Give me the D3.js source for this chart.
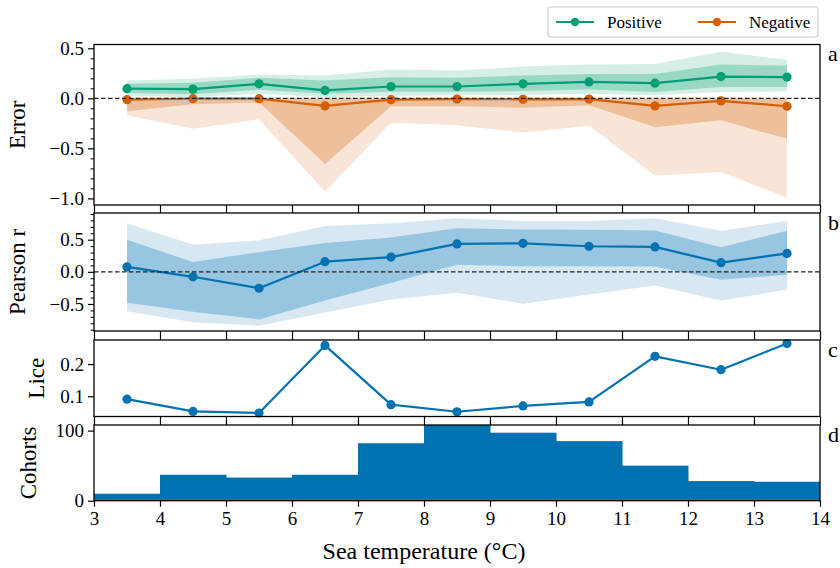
<!DOCTYPE html>
<html>
<head>
<meta charset="utf-8">
<script src="https://cdn.jsdelivr.net/npm/d3@7"></script>
<style>
  html, body { margin: 0; padding: 0; background: #fff; }
  svg { display: block; }
  text { font-family: "Liberation Serif", "Times New Roman", serif; fill: #000; }
</style>
</head>
<body>
<svg id="chart" width="840" height="568"></svg>
<script>
// Temperature bins (°C)
const binCenters = [3.5, 4.5, 5.5, 6.5, 7.5, 8.5, 9.5, 10.5, 11.5, 12.5, 13.5];
const binEdges = [3, 4, 5, 6, 7, 8, 9, 10, 11, 12, 13, 14];
const xTicks = [3, 4, 5, 6, 7, 8, 9, 10, 11, 12, 13, 14];

// Panel a: error of positive / negative predictions (mean, inner and outer bands)
const posMean    = [0.096, 0.092, 0.145, 0.079, 0.118, 0.118, 0.145, 0.164, 0.151, 0.217, 0.212];
const posInnerLo = [0.053, 0.040, 0.086, 0.046, 0.066, 0.066, 0.073, 0.089, 0.063, 0.112, 0.112];
const posInnerHi = [0.145, 0.155, 0.205, 0.178, 0.211, 0.205, 0.228, 0.244, 0.244, 0.337, 0.327];
const posOuterLo = [0.020, 0.013, 0.046, 0.013, 0.023, 0.030, 0.030, 0.046, 0.030, 0.063, 0.069];
const posOuterHi = [0.178, 0.195, 0.238, 0.228, 0.287, 0.277, 0.317, 0.337, 0.343, 0.465, 0.386];

const negMean    = [-0.013, -0.003, -0.003, -0.076, -0.013, -0.007, -0.010, -0.007, -0.076, -0.026, -0.079];
const negInnerLo = [-0.128, -0.060, -0.040, -0.655, -0.080, -0.080, -0.095, -0.070, -0.290, -0.220, -0.405];
const negInnerHi = [0, 0, 0, 0, 0, 0, 0, 0, 0, 0, 0];
const negOuterLo = [-0.171, -0.303, -0.210, -0.934, -0.243, -0.270, -0.342, -0.273, -0.770, -0.737, -0.993];
const negOuterHi = [0, 0, 0, 0, 0, 0, 0, 0, 0, 0, 0];

// Panel b: Pearson correlation (mean, inner and outer bands)
const rMean    = [0.077, -0.077, -0.255, 0.158, 0.230, 0.434, 0.444, 0.398, 0.388, 0.143, 0.286];
const rInnerLo = [-0.480, -0.622, -0.740, -0.444, -0.173, 0.112, 0.087, 0.087, 0.082, -0.122, -0.046];
const rInnerHi = [0.500, 0.153, 0.306, 0.449, 0.536, 0.679, 0.658, 0.653, 0.643, 0.383, 0.638];
const rOuterLo = [-0.612, -0.786, -0.837, -0.633, -0.430, -0.327, -0.495, -0.352, -0.214, -0.449, -0.276];
const rOuterHi = [0.755, 0.423, 0.490, 0.714, 0.755, 0.832, 0.790, 0.790, 0.832, 0.638, 0.790];

// Panel c: lice
const lice = [0.091, 0.053, 0.048, 0.258, 0.074, 0.052, 0.070, 0.0825, 0.224, 0.1825, 0.264];

// Panel d: number of cohorts per bin
const cohorts = [10, 37, 33, 37, 82, 108, 97, 85, 50, 28, 27];

// Tick values
const errTicks = [-1.0, -0.5, 0.0, 0.5];
const rTicks = [-0.5, 0.0, 0.5];
const liceTicks = [0.1, 0.2];
const cohortTicks = [0, 100];

const legendLabels = ["Positive", "Negative"];

const colGreen = "#009E73", colOrange = "#D55E00", colBlue = "#0072B2";
const tickFont = 19, labelFont = 23;

const svg = d3.select("#chart");
const W = 840;
const x = d3.scaleLinear().domain([3, 14]).range([94, 820]);

// padded extent like an autoscaled axis
function padded(lo, hi, frac = 0.05) {
  const p = (hi - lo) * frac;
  return [lo - p, hi + p];
}

const panels = [
  { key: "a", top: 44.5, bottom: 205, label: "Error", labelX: 17,
    domain: padded(d3.min(negOuterLo), d3.max(posOuterHi)), ticks: errTicks, minor: 0.1, fmt: d3.format(".1f") },
  { key: "b", top: 213, bottom: 331, label: "Pearson r", labelX: 17,
    domain: padded(d3.min(rOuterLo), d3.max(rOuterHi)), ticks: rTicks, minor: 0.1, fmt: d3.format(".1f") },
  { key: "c", top: 340, bottom: 416.5, label: "Lice", labelX: 36,
    domain: padded(d3.min(lice), d3.max(lice)), ticks: liceTicks, minor: null, fmt: d3.format(".1f") },
  { key: "d", top: 425, bottom: 500.7, label: "Cohorts", labelX: 28,
    domain: [0, d3.max(cohorts)], ticks: cohortTicks, minor: null, fmt: d3.format("d") }
];

const minusFmt = f => v => f(v).replace("-", "\u2212");

panels.forEach((p, i) => {
  p.y = d3.scaleLinear().domain(p.domain).range([p.bottom, p.top]);
  const g = svg.append("g").attr("class", "panel-" + p.key);
  p.g = g;
  const clipId = "clip-" + p.key;
  svg.append("clipPath").attr("id", clipId)
    .append("rect").attr("x", x(3)).attr("y", p.top)
    .attr("width", x(14) - x(3)).attr("height", p.bottom - p.top);
  p.plot = g.append("g").attr("clip-path", `url(#${clipId})`);
});

function band(pl, y, lo, hi, fill) {
  const area = d3.area().x((d, i) => x(binCenters[i])).y0((d, i) => y(lo[i])).y1((d, i) => y(hi[i]));
  pl.append("path").datum(lo).attr("d", area).attr("fill", fill).attr("stroke", "none");
}
function series(pl, y, vals, color, r = 4.6) {
  const line = d3.line().x((d, i) => x(binCenters[i])).y(d => y(d));
  pl.append("path").datum(vals).attr("d", line).attr("fill", "none")
    .attr("stroke", color).attr("stroke-width", 2.2).attr("stroke-linejoin", "round");
  pl.selectAll(null).data(vals).enter().append("circle")
    .attr("cx", (d, i) => x(binCenters[i])).attr("cy", d => y(d)).attr("r", r).attr("fill", color);
}
function zeroLine(pl, y) {
  pl.append("line").attr("x1", x(3)).attr("x2", x(14)).attr("y1", y(0)).attr("y2", y(0))
    .attr("stroke", "#222").attr("stroke-width", 1.2).attr("stroke-dasharray", "4.5,2.5");
}

// Panel a
{
  const p = panels[0];
  band(p.plot, p.y, posOuterLo, posOuterHi, "#d5efe8");
  band(p.plot, p.y, posInnerLo, posInnerHi, "#9ad8c6");
  band(p.plot, p.y, negOuterLo, negOuterHi, "#f8e5d8");
  band(p.plot, p.y, negInnerLo, negInnerHi, "#edbf9a");
  series(p.plot, p.y, posMean, colGreen);
  series(p.plot, p.y, negMean, colOrange);
  zeroLine(p.plot, p.y);
}
// Panel b
{
  const p = panels[1];
  band(p.plot, p.y, rOuterLo, rOuterHi, "#d7e8f3");
  band(p.plot, p.y, rInnerLo, rInnerHi, "#98c5e0");
  series(p.plot, p.y, rMean, colBlue);
  zeroLine(p.plot, p.y);
}
// Panel c
{
  const p = panels[2];
  series(p.g, p.y, lice, colBlue);
}
// Panel d
{
  const p = panels[3];
  p.plot.selectAll("rect").data(cohorts).enter().append("rect")
    .attr("x", (d, i) => x(binEdges[i]))
    .attr("width", (d, i) => x(binEdges[i + 1]) - x(binEdges[i]) + 0.5)
    .attr("y", d => p.y(d))
    .attr("height", d => p.y(0) - p.y(d))
    .attr("fill", colBlue);
}

// Axes, frames, labels
panels.forEach((p, i) => {
  const g = p.g;
  // minor y ticks
  if (p.minor) {
    const [lo, hi] = p.domain;
    const minors = d3.range(Math.ceil(lo / p.minor - 1e-9), Math.floor(hi / p.minor + 1e-9) + 1)
      .map(k => +(k * p.minor).toFixed(3))
      .filter(v => !p.ticks.some(t => Math.abs(t - v) < 1e-6));
    const ax = d3.axisLeft(p.y).tickValues(minors).tickSize(3.5).tickFormat("");
    const ga = g.append("g").attr("transform", `translate(${x(3)},0)`).call(ax);
    ga.select(".domain").remove();
    ga.selectAll("line").attr("stroke", "#000").attr("stroke-width", 1);
  }
  const yAx = d3.axisLeft(p.y).tickValues(p.ticks).tickSize(6).tickPadding(4).tickFormat(minusFmt(p.fmt));
  const gy = g.append("g").attr("transform", `translate(${x(3)},0)`).call(yAx);
  gy.select(".domain").remove();
  gy.selectAll("line").attr("stroke", "#000").attr("stroke-width", 1.2);
  gy.selectAll("text").attr("font-family", "Liberation Serif").attr("font-size", tickFont).attr("fill", "#000");

  // x ticks below each panel
  const last = i === panels.length - 1;
  const tickLen = last ? 6 : panels[i + 1].top - p.bottom;
  const xAx = d3.axisBottom(x).tickValues(xTicks).tickSize(tickLen).tickPadding(5)
    .tickFormat(last ? d3.format("d") : "");
  const gx = g.append("g").attr("transform", `translate(0,${p.bottom})`).call(xAx);
  gx.select(".domain").remove();
  gx.selectAll("line").attr("stroke", "#000").attr("stroke-width", 1.2);
  gx.selectAll("text").attr("font-family", "Liberation Serif").attr("font-size", tickFont).attr("fill", "#000");

  // frame
  g.append("rect").attr("x", x(3)).attr("y", p.top).attr("width", x(14) - x(3)).attr("height", p.bottom - p.top)
    .attr("fill", "none").attr("stroke", "#000").attr("stroke-width", 1.3);

  // y label
  const cy = (p.top + p.bottom) / 2;
  g.append("text").attr("transform", `translate(${p.labelX + 8},${cy}) rotate(-90)`)
    .attr("text-anchor", "middle").attr("font-size", labelFont).text(p.label);

  // panel letter
  g.append("text").attr("x", 828).attr("y", p.top + 16.5).attr("font-size", 22).text(p.key);
});

// x label, centred on the figure
svg.append("text").attr("x", W / 2 + 4).attr("y", 559).attr("text-anchor", "middle")
  .attr("font-size", 24).text("Sea temperature (\u00B0C)");

// Legend
{
  const lg = svg.append("g").attr("class", "legend");
  lg.append("rect").attr("x", 548).attr("y", 7).attr("width", 270).attr("height", 30).attr("rx", 3)
    .attr("fill", "#fff").attr("stroke", "#ccc").attr("stroke-width", 1.2);
  const items = [
    { label: legendLabels[0], color: colGreen, x0: 556 },
    { label: legendLabels[1], color: colOrange, x0: 698 }
  ];
  items.forEach(it => {
    lg.append("line").attr("x1", it.x0).attr("x2", it.x0 + 38).attr("y1", 22).attr("y2", 22)
      .attr("stroke", it.color).attr("stroke-width", 2.2);
    lg.append("circle").attr("cx", it.x0 + 19).attr("cy", 22).attr("r", 4.2).attr("fill", it.color);
    lg.append("text").attr("x", it.x0 + 51).attr("y", 28).attr("font-size", 17).text(it.label);
  });
}
</script>
</body>
</html>
